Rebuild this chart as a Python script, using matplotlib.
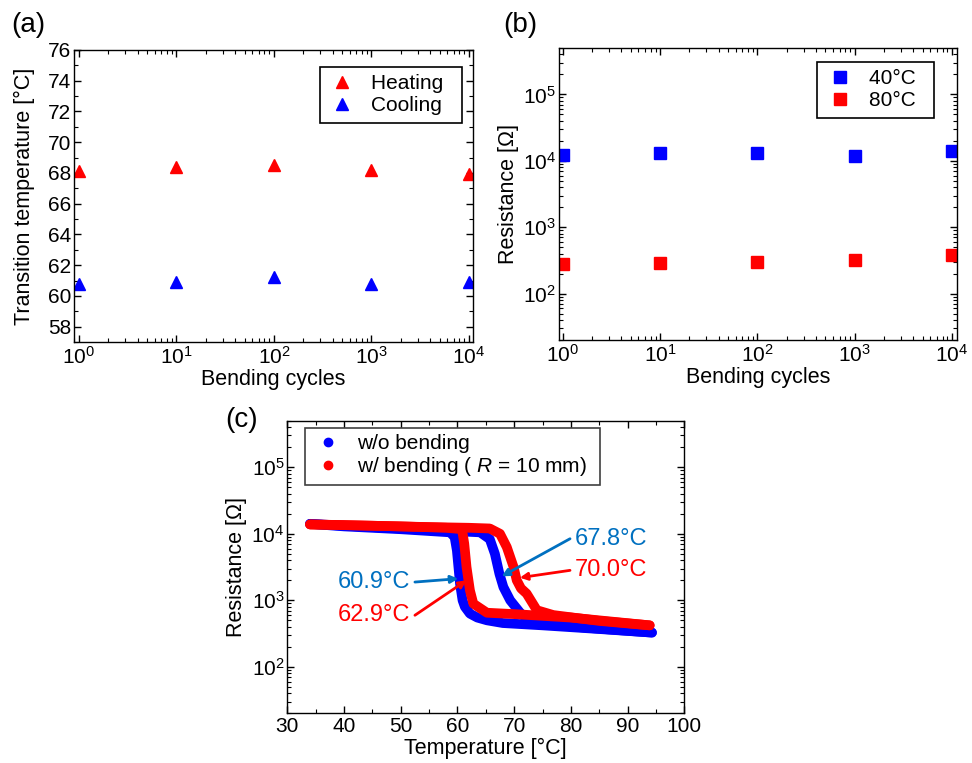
import numpy as np
import matplotlib
matplotlib.use('Agg')
import matplotlib.pyplot as plt
from matplotlib.ticker import LogLocator, MultipleLocator, NullFormatter

plt.rcParams['font.family'] = ['Liberation Sans', 'DejaVu Sans']
plt.rcParams['mathtext.fontset'] = 'custom'
plt.rcParams['mathtext.rm'] = 'Liberation Sans'
plt.rcParams['mathtext.it'] = 'Liberation Sans:italic'
plt.rcParams['axes.linewidth'] = 1.0

# (a) transition temperature vs bending cycles
cycles = [1, 10, 100, 1000, 10000]
t_heat = [68.1, 68.4, 68.5, 68.2, 67.9]
t_cool = [60.8, 60.9, 61.2, 60.8, 60.9]

# (b) resistance vs bending cycles
r_40 = [12400, 13200, 13000, 11750, 14100]
r_80 = [275, 292, 303, 316, 385]

# (c) R-T loops, heating and cooling branches
wo_heat_T = [34.0, 40, 50, 58, 62, 64.0, 65.7, 66.6, 67.4, 68.1, 69.3, 71.0, 72.5, 75, 83, 94.3]
wo_heat_R = [14100, 13200, 12000, 11000, 10700, 10500, 8300, 5000, 2500, 1580, 1000, 660, 500, 440, 385, 327]
wo_cool_T = [94.3, 85, 75, 68, 65.2, 63.5, 62.2, 61.3, 60.9, 60.45, 59.9, 59.5, 58.7, 50, 40, 34.0]
wo_cool_R = [327, 370, 420, 455, 500, 550, 630, 800, 1000, 1780, 5600, 8900, 10500, 11700, 12900, 14100]

w_heat_T = [34.0, 45, 55, 62, 65.7, 67.5, 68.7, 69.9, 70.45, 71.2, 72.2, 74.0, 76.9, 85, 93.9]
w_heat_R = [13800, 13200, 12600, 12300, 12000, 10000, 6300, 3160, 2000, 1510, 1260, 710, 600, 490, 420]
w_cool_T = [93.9, 80, 70, 65.2, 62.8, 62.2, 61.6, 61.2, 60.8, 58, 50, 40, 34.0]
w_cool_R = [420, 550, 620, 650, 890, 1410, 3160, 7080, 11700, 12300, 12900, 13500, 13800]

blue = '#0000ff'
red = '#ff0000'
note_blue = '#0070c0'

fig = plt.figure(figsize=(9.72, 7.63), dpi=100)
ax1 = fig.add_axes([0.0761, 0.5518, 0.4105, 0.3827])
ax2 = fig.add_axes([0.5748, 0.5544, 0.4095, 0.3827])
ax3 = fig.add_axes([0.2956, 0.0651, 0.4084, 0.3835])

tick_fs = 15
label_fs = 15.5


def style_axis(ax):
    ax.tick_params(which='both', direction='in', top=True, right=True, labelsize=tick_fs)
    ax.tick_params(which='major', length=5, width=1, pad=3)
    ax.tick_params(which='minor', length=3, width=0.8)
    ax.tick_params(axis='y', which='major', pad=2)


def log_ticks(axis):
    axis.set_major_locator(LogLocator(base=10, numticks=12))
    axis.set_minor_locator(LogLocator(base=10, subs=np.arange(2, 10), numticks=12))
    axis.set_minor_formatter(NullFormatter())


def box_legend(ax, **kw):
    leg = ax.legend(borderaxespad=0, fontsize=15, fancybox=False, framealpha=1, **kw)
    leg.get_frame().set_linewidth(1.2)
    return leg


# panel a
ax1.plot(cycles, t_heat, '^', color=red, ms=9, mec=red, label='Heating  ')
ax1.plot(cycles, t_cool, '^', color=blue, ms=9, mec=blue, label='Cooling  ')
ax1.set_xscale('log')
ax1.set_xlim(0.89, 11000)
ax1.set_ylim(57, 76)
log_ticks(ax1.xaxis)
ax1.yaxis.set_major_locator(MultipleLocator(2))
ax1.yaxis.set_minor_locator(MultipleLocator(1))
ax1.set_xlabel('Bending cycles', fontsize=label_fs, labelpad=1)
ax1.set_ylabel('Transition temperature [°C]', fontsize=label_fs, labelpad=9)
style_axis(ax1)
box_legend(ax1, loc='upper right', bbox_to_anchor=(0.972, 0.942), handlelength=1.4,
           handletextpad=0.7, borderpad=0.35, labelspacing=0.15, edgecolor='black')

# panel b
ax2.plot(cycles, r_40, 's', color=blue, ms=8, label='40°C  ')
ax2.plot(cycles, r_80, 's', color=red, ms=8, label='80°C  ')
ax2.set_xscale('log')
ax2.set_yscale('log')
ax2.set_xlim(0.91, 11200)
ax2.set_ylim(20, 5e5)
log_ticks(ax2.xaxis)
log_ticks(ax2.yaxis)
ax2.set_xlabel('Bending cycles', fontsize=label_fs, labelpad=1)
ax2.set_ylabel('Resistance [Ω]', fontsize=label_fs, labelpad=3)
style_axis(ax2)
box_legend(ax2, loc='upper right', bbox_to_anchor=(0.943, 0.952), handlelength=1.5,
           handletextpad=0.6, borderpad=0.35, labelspacing=0.15, edgecolor='black')

# panel c
lw = 7
kw = dict(solid_capstyle='round', solid_joinstyle='round')
ax3.plot(wo_heat_T, wo_heat_R, '-', color=blue, lw=lw, **kw)
ax3.plot(wo_cool_T, wo_cool_R, '-', color=blue, lw=lw, **kw)
ax3.plot(w_heat_T, w_heat_R, '-', color=red, lw=lw, **kw)
ax3.plot(w_cool_T, w_cool_R, '-', color=red, lw=lw, **kw)
ax3.plot([], [], 'o', color=blue, ms=6, label='w/o bending')
ax3.plot([], [], 'o', color=red, ms=6, label='w/ bending ( $\\it{R}$ = 10 mm)  ')
ax3.set_yscale('log')
ax3.set_xlim(30, 100)
ax3.set_ylim(20, 5e5)
ax3.xaxis.set_major_locator(MultipleLocator(10))
ax3.xaxis.set_minor_locator(MultipleLocator(5))
log_ticks(ax3.yaxis)
ax3.set_xlabel('Temperature [°C]', fontsize=label_fs, labelpad=1)
ax3.set_ylabel('Resistance [Ω]', fontsize=label_fs, labelpad=3)
style_axis(ax3)
box_legend(ax3, loc='upper left', bbox_to_anchor=(0.0446, 0.975), handlelength=1.6,
           handletextpad=0.6, borderpad=0.3, labelspacing=0.1, edgecolor='#404040')

# transition temperature callouts: (text, colour, tip, tail, side)
notes = [
    ('67.8°C', note_blue, (67.8, 10 ** 3.36), (79.85, 10 ** 3.925), 'left'),
    ('70.0°C', red, (71.0, 10 ** 3.34), (79.85, 10 ** 3.45), 'left'),
    ('60.9°C', note_blue, (60.15, 10 ** 3.325), (52.5, 10 ** 3.274), 'right'),
    ('62.9°C', red, (61.6, 10 ** 3.30), (52.5, 10 ** 2.775), 'right'),
]
for txt, col, tip, tail, side in notes:
    ax3.annotate('', xy=tip, xytext=tail,
                 arrowprops=dict(arrowstyle='-|>', color=col, lw=2, mutation_scale=11,
                                 shrinkA=0, shrinkB=0))
    dx = 0.9 if side == 'left' else -0.9
    ax3.text(tail[0] + dx, tail[1], txt, color=col, fontsize=17, ha=side, va='center')

fig.text(0.029, 0.967, '(a)', fontsize=20, ha='center', va='center')
fig.text(0.535, 0.967, '(b)', fontsize=20, ha='center', va='center')
fig.text(0.249, 0.449, '(c)', fontsize=20, ha='center', va='center')

fig.savefig('out.png', dpi=100)
